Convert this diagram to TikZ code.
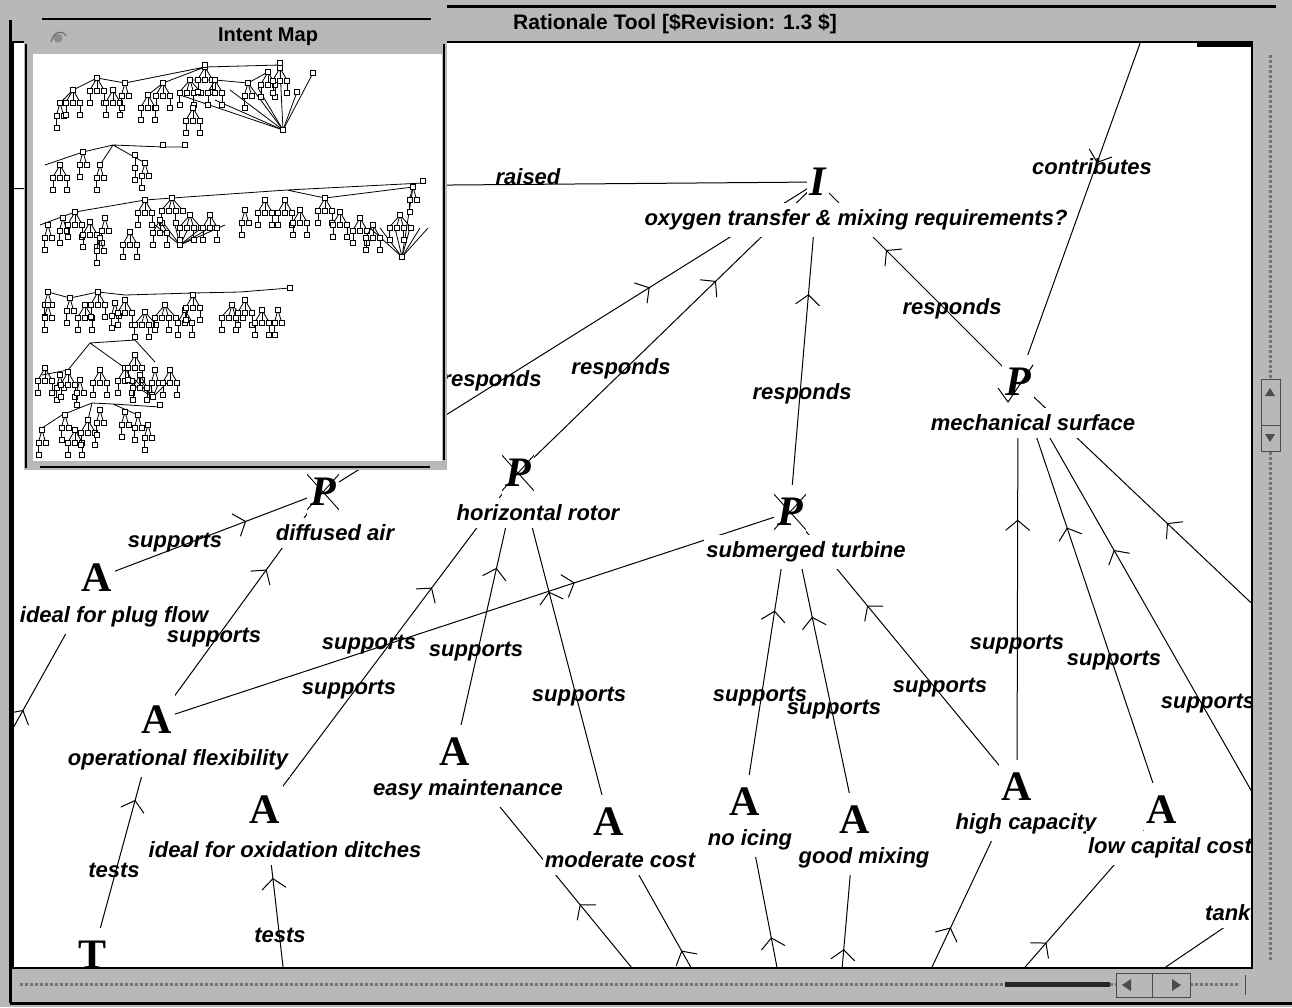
\documentclass[tikz,border=0pt]{standalone}
\usepackage{fontspec}
\setmainfont{Liberation Serif}
\setsansfont{Liberation Sans}
\usepackage{tikz}
\usetikzlibrary{arrows.meta,decorations.markings}
\pgfdeclarelayer{back}
\pgfdeclarelayer{edges}
\pgfsetlayers{back,edges,main}
\definecolor{stipple}{gray}{0.72}

\begin{document}
\begin{tikzpicture}[x=1pt,y=-1pt,kind/.style={font=\fontsize{42}{42}\selectfont\bfseries,fill=white,inner xsep=3pt,minimum height=54pt},kindit/.style={kind,font=\fontsize{42}{42}\selectfont\bfseries\itshape},crossed/.style={kindit,path picture={\draw[line width=0.9pt] ([shift={(-18,-20)}]path picture bounding box.center) -- ([shift={(18,20)}]path picture bounding box.center) ([shift={(-18,20)}]path picture bounding box.center) -- ([shift={(18,-20)}]path picture bounding box.center);}},desc/.style={font=\fontsize{22}{24}\selectfont\sffamily\bfseries\itshape,fill=white,inner xsep=2pt,inner ysep=7pt},rel/.style={font=\fontsize{22}{24}\selectfont\sffamily\bfseries\itshape,inner sep=0pt},link/.style={draw,line width=1pt,postaction={decorate},decoration={markings,mark=at position 0.66 with {\arrow{Straight Barb[length=10pt,width=24pt]}}}},imbox/.style={draw,fill=white,line width=0.9pt},imline/.style={line width=0.8pt}]
\useasboundingbox (0,0) rectangle (1292,1007);
\begin{pgfonlayer}{back}
\fill[stipple] (0,0) rectangle (1292,1007);
\fill[white] (13,42) rectangle (1252,968);
\end{pgfonlayer}

\begin{scope}
\clip (13,42) rectangle (1252,968);
\node[kindit] (iss) at (818,182) {I};
\node[desc] (issL) at (856,220) {oxygen transfer \& mixing requirements?};
\node[crossed] (pDiff) at (323,492) {P};
\node[desc] (pDiffL) at (335,533) {diffused air};
\node[crossed] (pHor) at (518,473) {P};
\node[desc] (pHorL) at (538,513) {horizontal rotor};
\node[crossed] (pSub) at (790,512) {P};
\node[desc] (pSubL) at (806,552) {submerged turbine};
\node[kindit] (pMech) at (1018,382) {P};
\node[desc] (pMechL) at (1033,423) {mechanical surface};
\node[kind] (aPlug) at (97,578) {A};
\node[desc] (aPlugL) at (114,617) {ideal for plug flow};
\node[kind] (aFlex) at (157,720) {A};
\node[desc] (aFlexL) at (178,760) {operational flexibility};
\node[kind] (aOxid) at (265,810) {A};
\node[desc] (aOxidL) at (285,850) {ideal for oxidation ditches};
\node[kind] (aEasy) at (455,752) {A};
\node[desc] (aEasyL) at (468,790) {easy maintenance};
\node[kind] (aMod) at (609,822) {A};
\node[desc] (aModL) at (620,860) {moderate cost};
\node[kind] (aNoice) at (745,802) {A};
\node[desc] (aNoiceL) at (750,840) {no icing};
\node[kind] (aGood) at (855,820) {A};
\node[desc] (aGoodL) at (864,858) {good mixing};
\node[kind] (aHigh) at (1017,787) {A};
\node[desc] (aHighL) at (1026,824) {high capacity};
\node[kind] (aLow) at (1162,810) {A};
\node[desc] (aLowL) at (1170,848) {low capital cost};
\node[kind] (tFlex) at (93,955) {T};
\node[desc,anchor=west] (tankL) at (1203,913) {tank};
\draw[line width=1pt] ([shift={(-20,6)}]pMech.center) -- ++(10,14) -- ++(25,-37);
\node[rel] (lRaised) at (528,177) {raised};
\node[rel] (lContrib) at (1092,167) {contributes};
\node[rel] (lRespMech) at (952,309) {responds};
\node[rel] (lRespHor) at (621,369) {responds};
\node[rel] (lRespSub) at (802,394) {responds};
\node[rel] (lRespDiff) at (492,381) {responds};
\node[rel] (lSupPlug) at (175,543) {supports};
\node[rel] (lSupFlexD) at (214,638) {supports};
\node[rel] (lSupFlexS) at (369,645) {supports};
\node[rel] (lSupEasy) at (476,652) {supports};
\node[rel] (lSupOxid) at (349,690) {supports};
\node[rel] (lSupMod) at (579,697) {supports};
\node[rel] (lSupNoice) at (760,697) {supports};
\node[rel] (lSupGood) at (834,710) {supports};
\node[rel] (lSupHighS) at (940,688) {supports};
\node[rel] (lSupHighM) at (1017,645) {supports};
\node[rel] (lSupLow) at (1114,661) {supports};
\node[rel] (lSupTank) at (1208,704) {supports};
\node[rel] (lTestFlex) at (114,870) {tests};
\node[rel] (lTestOxid) at (280,935) {tests};
\end{scope}

\begin{pgfonlayer}{edges}
\clip (13,42) rectangle (1252,968);
\coordinate (raiser) at (-400,192);
\coordinate (cSrc) at (1250,-262);
\coordinate (rSrc) at (1456,797);
\coordinate (plugSrc) at (-120,966);
\coordinate (oxTest) at (288,1010);
\coordinate (below) at (822,1200);
\coordinate (tankN) at (1300,876);
\draw[link] (raiser) -- (iss.center);
\draw[link] (cSrc) -- (pMech.center);
\foreach \s in {pMech,pSub,pHor,pDiff}
   \draw[link] (\s.center) -- (iss.center);
\foreach \s/\t in {aPlug/pDiff,aFlex/pDiff,aFlex/pSub,aOxid/pHor,aEasy/pHor,aMod/pHor,aNoice/pSub,aGood/pSub,aHigh/pSub,aHigh/pMech,aLow/pMech,tankN/pMech,rSrc/pMech,tFlex/aFlex,oxTest/aOxid,plugSrc/aPlug}
   \draw[link] (\s.center) -- (\t.center);
\foreach \t in {aEasy,aMod,aNoice,aGood,aHigh,aLow,tankN}
   \draw[link] (below) -- (\t.center);
\end{pgfonlayer}

% window frame
\draw[line width=1.5pt] (13,42) rectangle (1252,968);
\draw[line width=3pt] (447,6) -- (1276,6);
\draw[line width=3pt] (10,20) -- (10,1003);
\draw[line width=3pt] (10,1003) -- (1292,1003);
\node[font=\fontsize{21}{21}\selectfont\sffamily\bfseries] (title) at (675,24) {Rationale Tool [\$Revision: 1.3 \$]};
\fill (1197,41) rectangle (1251,47);
\draw[black!55,line width=3pt,dotted] (1270,55) -- (1270,378) (1270,452) -- (1270,960);
\draw[black!70,fill=stipple] (1261,379) rectangle (1280,451);
\draw[black!70] (1261,425) -- (1280,425);
\fill[black!70] (1265,396) -- (1275,396) -- (1270,388) -- cycle;
\fill[black!70] (1265,434) -- (1275,434) -- (1270,442) -- cycle;
\draw[black!55,line width=3pt,dotted] (20,984) -- (1240,984);
\draw[black!85,line width=5pt] (1005,984) -- (1110,984);
\draw[black!70,fill=stipple] (1116,973) rectangle (1190,997);
\draw[black!70] (1152,973) -- (1152,997) (1245,975) -- (1245,995);
\fill[black!70] (1122,985) -- (1131,979) -- (1131,991) -- cycle;
\fill[black!70] (1181,985) -- (1172,979) -- (1172,991) -- cycle;

% intent map
\fill[stipple] (24,14) rectangle (447,470);
\fill[white] (33,54) rectangle (442,461);
\draw[line width=2.5pt] (42,19) -- (431,19);
\draw[line width=2.5pt] (26,44) -- (26,468);
\draw[line width=2.5pt] (40,467) -- (430,467);
\draw[line width=1.5pt] (444,44) -- (444,460);
\node[font=\fontsize{20}{20}\selectfont\sffamily\bfseries] (imTitle) at (268,37) {Intent Map};
\fill[black!45] (58,38) circle (4.5);
\draw[black!60,line width=1pt] (51,42) .. controls (54,30) and (63,30) .. (66,36);
\draw[imline] (60,103) -- (73,90) -- (97,78) -- (125,83) -- (205,67) -- (280,65) (148,95) -- (163,83) -- (205,67) (190,80) -- (215,80) -- (248,83) -- (268,72);
\foreach \hx/\hy in {180/95,215/100,230/90,248/83,258/88,280/68,297/92,313/73}
   \draw[imline] (\hx,\hy) -- (283,130);
\draw[imline] (45,165) -- (83,152) -- (113,145) -- (163,147) -- (185,147) (100,165) -- (113,145) -- (145,163);
\draw[imline] (40,225) -- (75,212) -- (145,200) -- (172,198) -- (287,190) -- (423,183) (287,190) -- (325,198) -- (413,187);
\foreach \hx in {155,165,175,190,205,215,225}
   \draw[imline] (\hx,225) -- (180,245);
\foreach \hx in {370,380,395,410,420,428}
   \draw[imline] (\hx,228) -- (402,257);
\draw[imline] (413,187) -- (402,257);
\draw[imline] (48,292) -- (70,298) -- (98,292) -- (125,295) -- (193,293) -- (240,292) -- (290,288);
\draw[imline] (42,375) -- (68,370) -- (90,343) -- (135,340) (90,343) -- (125,368) (135,340) -- (155,362);
\foreach \hx in {125,135,140,150,160,170}
   \draw[imline] (\hx,380) -- (153,397);
\draw[imline] (42,428) -- (62,415) -- (92,403) -- (113,404) -- (160,407) (92,403) -- (88,420) (113,404) -- (138,415);
\foreach \px/\py/\n in {60/103/2,73/90/3,97/78/3,113/90/3,125/83/2,148/95/3,163/83/3,190/80/4,205/67/3,215/80/3,193/108/3,248/83/2,268/72/3,280/68/3,60/165/3,83/152/2,100/165/2,135/155/1,145/163/2,48/225/2,63/218/2,75/212/3,90/222/3,105/218/2,100/238/2,130/232/3,145/200/3,172/198/4,160/220/3,190/215/4,210/215/3,245/210/2,265/200/3,285/200/3,300/210/3,325/198/3,340/212/3,360/218/3,373/225/3,400/215/4,413/187/2,48/292/2,70/298/2,48/305/2,85/305/3,98/292/3,115/303/2,125/300/3,145/312/4,165/305/4,185/310/3,193/295/3,232/305/4,245/300/3,262/310/3,278/310/2,45/368/3,60/375/2,68/372/3,80/380/2,100/370/3,125/368/3,135/355/3,140/375/3,155/370/2,170/370/3,42/430/2,65/415/2,75/430/3,88/420/3,100/410/2,125/412/2,138/415/2,148/425/2}{
   \foreach \i in {1,...,\n}{
      \pgfmathsetmacro\cx{\px+7*\i-3.5*\n-3.5}
      \draw[imline] (\px,\py) -- (\cx,\py+12);
      \draw[imbox] (\cx-2.5,\py+10) rectangle ++(5,5);
      \ifodd\i
         \draw[imline] (\cx,\py+15) -- (\cx,\py+22);
         \draw[imbox] (\cx-2.5,\py+22) rectangle ++(5,5);
      \fi
   }
   \draw[imbox] (\px-2.5,\py-2.5) rectangle ++(5,5);
}
\foreach \qx/\qy in {205/65,280/63,313/73,297/92,283/130,163/145,185/145,423/181,180/245,402/257,290/288,153/397,160/405}
   \draw[imbox] (\qx-2.5,\qy-2.5) rectangle ++(5,5);
\end{tikzpicture}
\end{document}
